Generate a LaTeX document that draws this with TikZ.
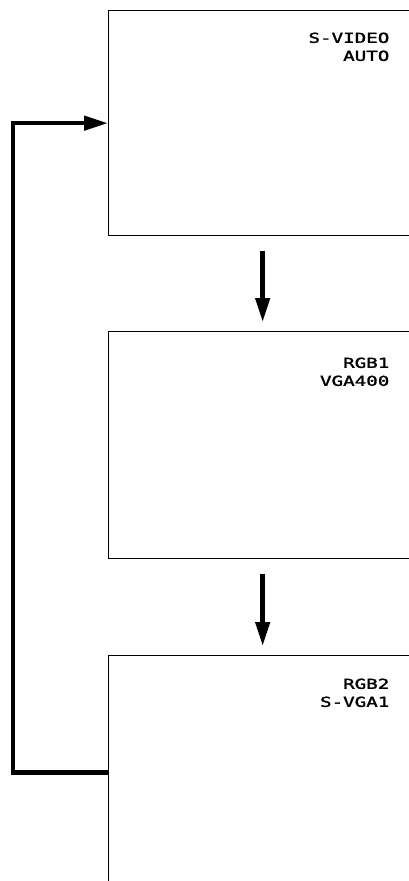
\documentclass[tikz,border=0pt]{standalone}
\usepackage{fontspec}
\newfontfamily\plotfont[FakeStretch=1.4,FakeBold=2]{DejaVu Sans Mono}
\usetikzlibrary{arrows.meta}

\begin{document}
\begin{tikzpicture}[x=1pt, y=-1pt, line width=1.3pt,
  screen/.style={draw, minimum width=308pt, anchor=north west, inner sep=0pt},
  tag/.style={anchor=north east, align=right, inner sep=0pt,
    font=\plotfont\fontsize{13.7}{18}\selectfont},
  flow/.style={line width=4.5pt, -{Triangle[width=14pt,length=24pt]}}]
  \useasboundingbox (0,0) rectangle (409,881);
  \clip (0,0) rectangle (409,881);
  % the three input screens, cut off at the right
  \node[screen, minimum height=225pt] (svideo) at (108,10) {};
  \node[screen, minimum height=227pt] (rgbone) at (108,331) {};
  \node[screen, minimum height=234pt] (rgbtwo) at (108,655) {};
  \node[tag] (svideotag) at (390,32) {S-VIDEO\\AUTO};
  \node[tag] (rgbonetag) at (390,357) {RGB1\\VGA400};
  \node[tag] (rgbtwotag) at (390,678) {RGB2\\S-VGA1};
  % stepping order
  \draw[flow] ([yshift=-15pt]svideo.south) -- ([yshift=9pt]rgbone.north);
  \draw[flow] ([yshift=-15pt]rgbone.south) -- ([yshift=9pt]rgbtwo.north);
  \draw[flow] (rgbtwo.west) -- ++(-95,0) |- (svideo.west);
\end{tikzpicture}
\end{document}
